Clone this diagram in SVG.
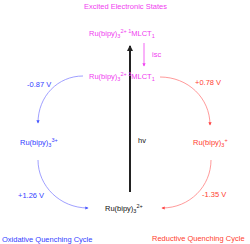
<svg xmlns="http://www.w3.org/2000/svg" width="250" height="244" viewBox="0 0 250 244">
<defs>
<style>
text{font-family:"Liberation Sans",Arial,sans-serif;font-size:7.5px}
.m{fill:#f040f0}.b{fill:#3340ff}.r{fill:#ff4030}.k{fill:#111}
.s{font-size:5.5px}
</style>
<marker id="ab" viewBox="0 0 6 6" refX="5" refY="3" markerWidth="4" markerHeight="4" orient="auto"><path d="M0,0L6,3L0,6z" fill="#4455ff"/></marker>
<marker id="ar" viewBox="0 0 6 6" refX="5" refY="3" markerWidth="4" markerHeight="4" orient="auto"><path d="M0,0L6,3L0,6z" fill="#ff4040"/></marker>
<marker id="am" viewBox="0 0 6 6" refX="5" refY="3" markerWidth="4" markerHeight="4" orient="auto"><path d="M0,0L6,3L0,6z" fill="#f040f0"/></marker>
<marker id="ak" viewBox="0 0 6 6" refX="5" refY="3" markerWidth="3" markerHeight="3" orient="auto"><path d="M0,0L6,3L0,6z" fill="#222"/></marker>
</defs>
<g id="connectors" fill="none">
<path d="M130,192V46" stroke="#222" stroke-width="2" marker-end="url(#ak)"/>
<path d="M144,43V66" stroke="#f040f0" stroke-width="0.8" marker-end="url(#am)"/>
<path d="M83,76C58,76 38,96 38,123" stroke="#8888ff" stroke-width="0.8" marker-end="url(#ab)"/>
<path d="M38,160C38,186 60,208 88,208" stroke="#8888ff" stroke-width="0.8" marker-end="url(#ab)"/>
<path d="M160,77C188,77 210,98 210,125" stroke="#ff8080" stroke-width="0.8" marker-end="url(#ar)"/>
<path d="M211,160C211,186 190,208 162,208" stroke="#ff8080" stroke-width="0.8" marker-end="url(#ar)"/>
</g>
<g id="title"><text class="m" x="125.5" y="9" text-anchor="middle">Excited Electronic States</text></g>
<g id="singlet"><text class="m" x="89" y="36">Ru(bipy)<tspan class="s" dy="1.8">3</tspan><tspan class="s" dy="-4.5">2+ 1</tspan><tspan dy="2.7">MLCT</tspan><tspan class="s" dy="1.8">1</tspan></text></g>
<g id="isc"><text class="m" x="152" y="57">isc</text></g>
<g id="triplet"><text class="m" x="89" y="79">Ru(bipy)<tspan class="s" dy="1.8">3</tspan><tspan class="s" dy="-4.5">2+ 3</tspan><tspan dy="2.7">MLCT</tspan><tspan class="s" dy="1.8">1</tspan></text></g>
<g id="ox"><text class="b" x="20" y="145">Ru(bipy)<tspan class="s" dy="1.8">3</tspan><tspan class="s" dy="-4.5">3+</tspan></text></g>
<g id="red"><text class="r" x="193" y="145">Ru(bipy)<tspan class="s" dy="1.8">3</tspan><tspan class="s" dy="-4.5">+</tspan></text></g>
<g id="ground"><text class="k" x="105" y="211">Ru(bipy)<tspan class="s" dy="1.8">3</tspan><tspan class="s" dy="-4.5">2+</tspan></text></g>
<g id="hv"><text class="k" x="138" y="143">hv</text></g>
<g id="lbl1"><text class="b" x="27" y="87">-0.87 V</text></g>
<g id="lbl2"><text class="b" x="18" y="198">+1.26 V</text></g>
<g id="lbl3"><text class="r" x="195" y="85">+0.78 V</text></g>
<g id="lbl4"><text class="r" x="202" y="197">-1.35 V</text></g>
<g id="cap1"><text class="b" x="2" y="242">Oxidative Quenching Cycle</text></g>
<g id="cap2"><text class="r" x="152" y="241">Reductive Quenching Cycle</text></g>
</svg>
